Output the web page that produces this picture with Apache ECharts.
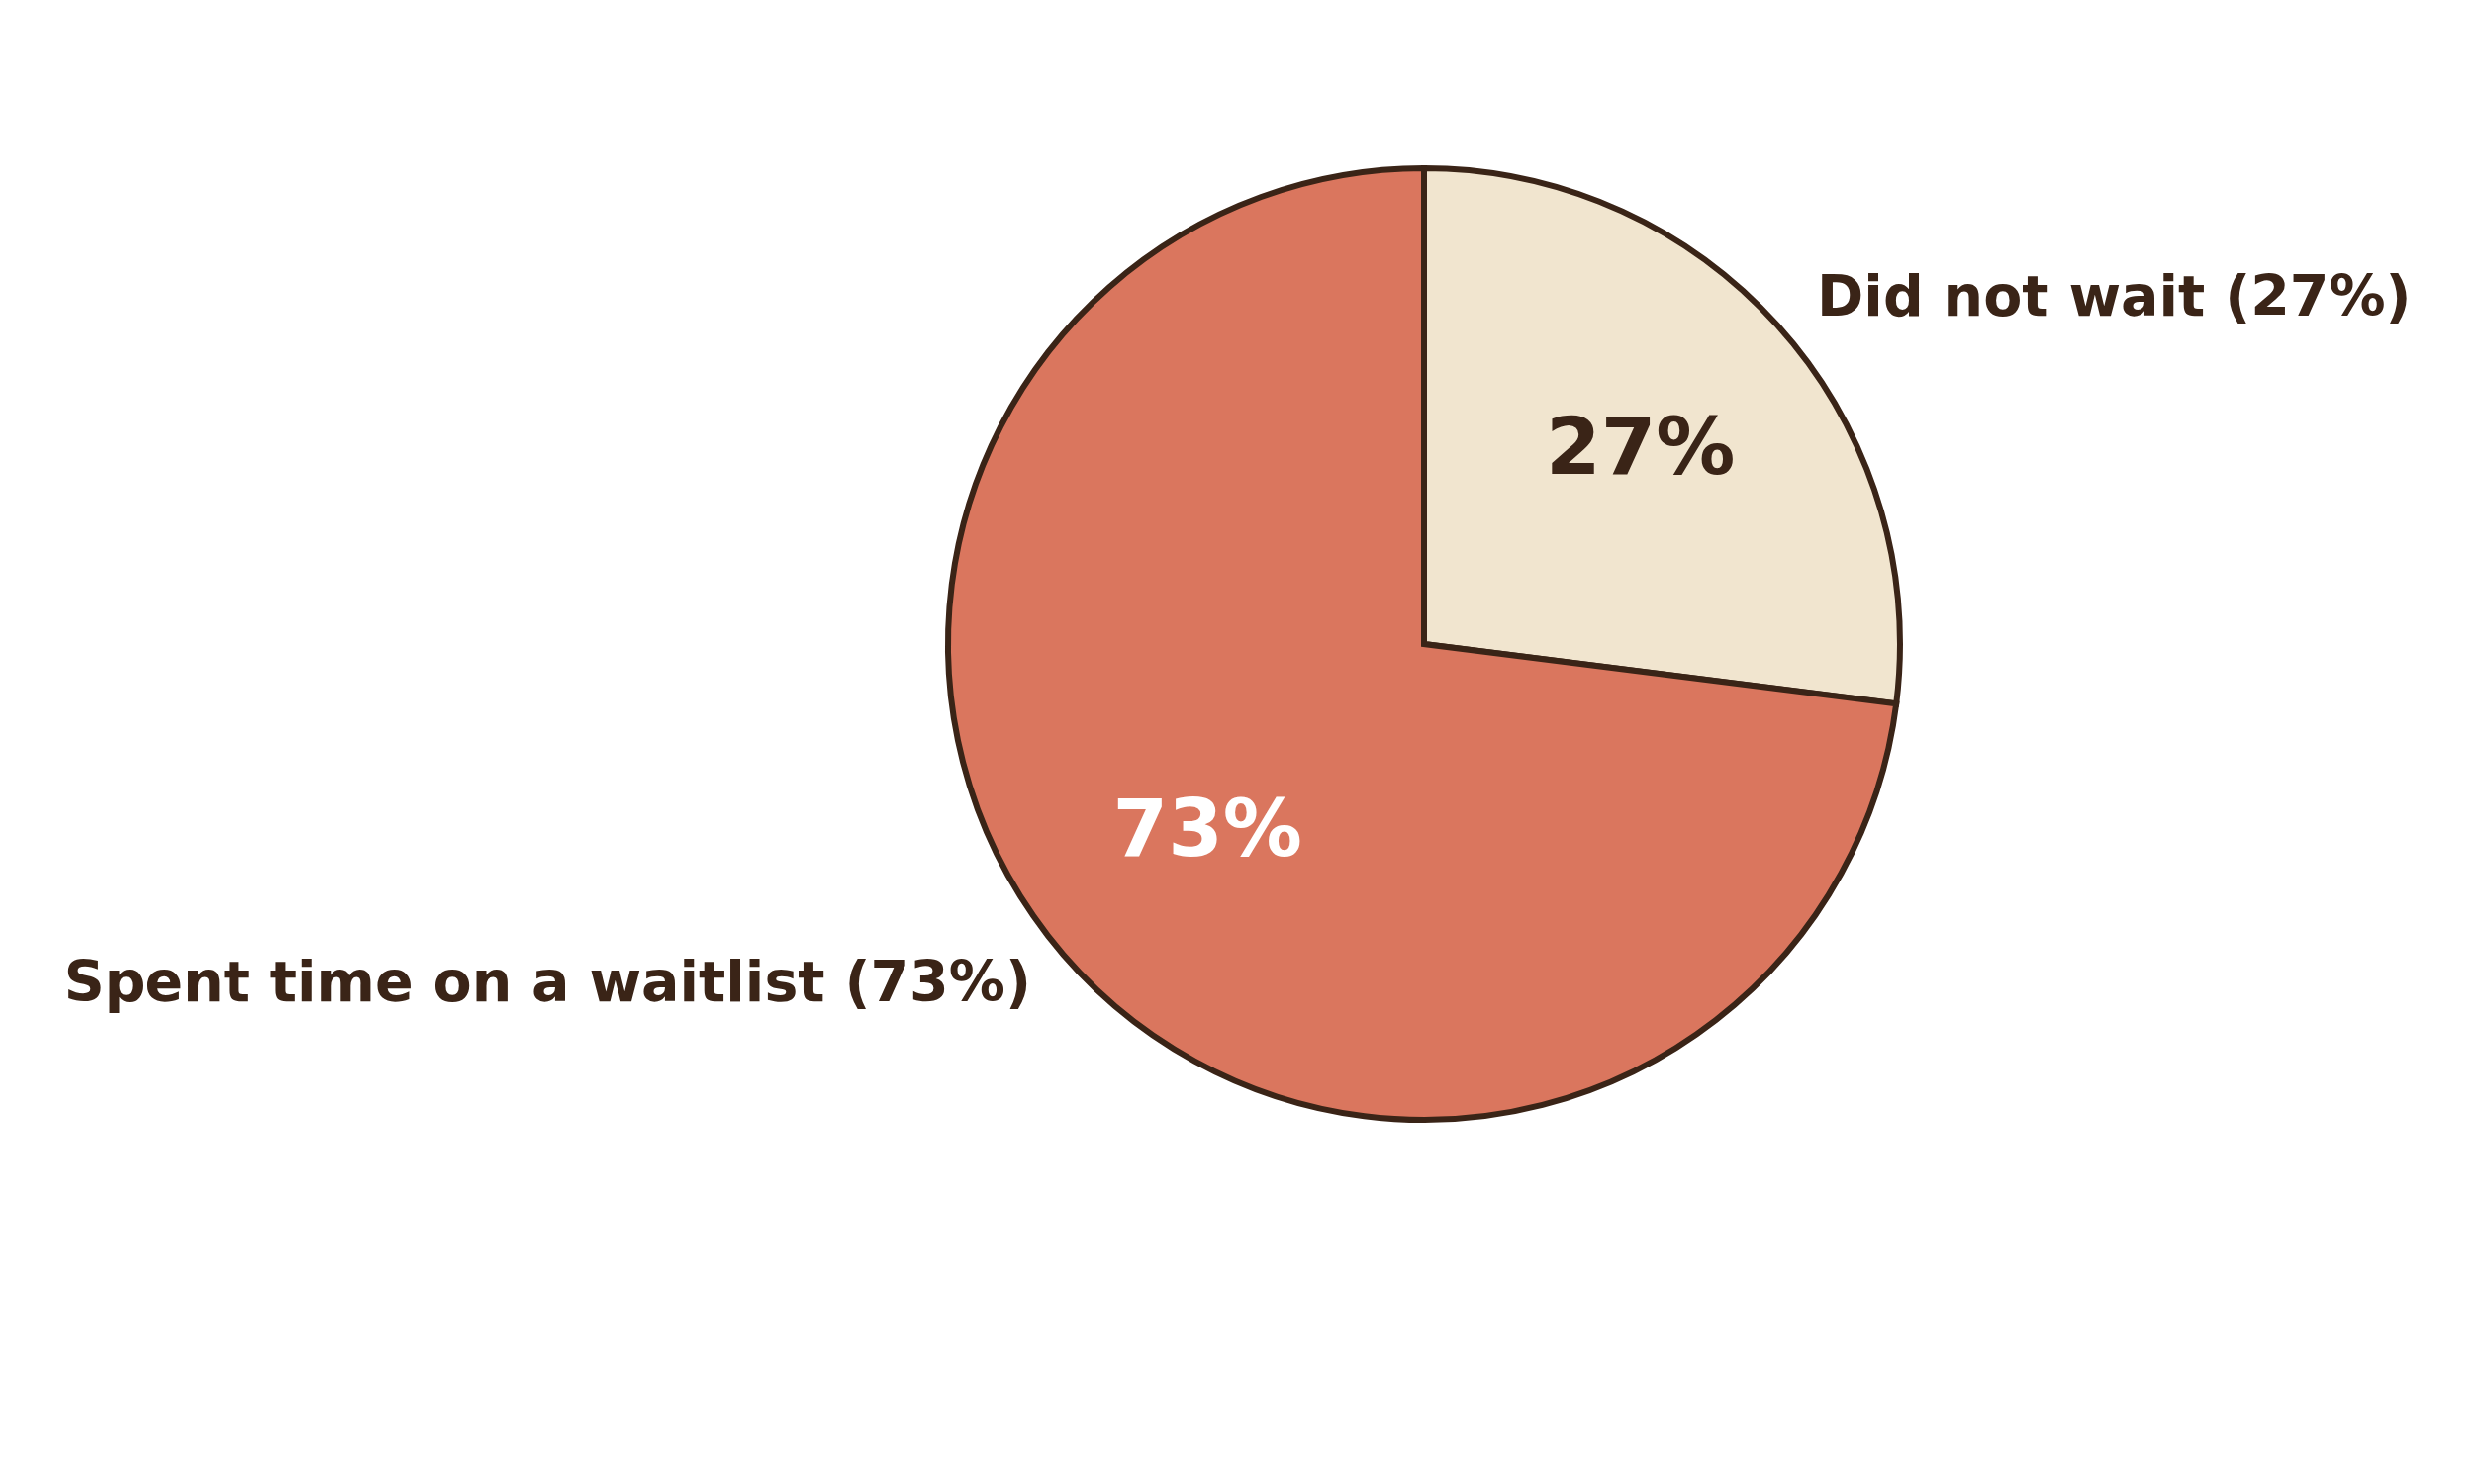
<!DOCTYPE html>
<html>
<head>
<meta charset="utf-8">
<script src="https://cdn.jsdelivr.net/npm/echarts@6/dist/echarts.min.js"></script>
<style>
  html, body { margin: 0; padding: 0; background: #ffffff; }
  #chart { width: 2500px; height: 1500px; }
</style>
</head>
<body>
<div id="chart"></div>
<script>
const categories = ["Did not wait", "Spent time on a waitlist"];
const shares = [27, 73];
const sliceColors = ["#f1e5cf", "#da765e"];
const innerLabelColors = ["#3a2417", "#ffffff"];

const ink = "#3a2417";
const cx = 1439, cy = 651, r = 481;

const chart = echarts.init(document.getElementById("chart"));

const option = {
  backgroundColor: "#ffffff",
  animation: false,
  series: [
    {
      // the pie itself, with the outer category labels
      type: "pie",
      center: [cx, cy],
      radius: [0, r],
      startAngle: 90,
      clockwise: true,
      avoidLabelOverlap: false,
      itemStyle: { borderColor: ink, borderWidth: 6, borderJoin: "miter" },
      label: {
        show: true,
        position: "outside",
        formatter: "{b} ({c}%)",
        color: ink,
        fontFamily: "DejaVu Sans",
        fontWeight: "bold",
        fontSize: 57,
        distanceToLabelLine: 4
      },
      labelLine: { show: false, length: 43, length2: 0 },
      emphasis: { disabled: true },
      data: categories.map((name, i) => ({
        name: name,
        value: shares[i],
        itemStyle: { color: sliceColors[i] }
      }))
    },
    {
      // transparent ring so the percent labels sit at 0.6 r
      type: "pie",
      center: [cx, cy],
      radius: [r * 0.2, r],
      startAngle: 90,
      clockwise: true,
      silent: true,
      z: 5,
      itemStyle: { color: "rgba(0,0,0,0)", borderWidth: 0 },
      label: {
        show: true,
        position: "inside",
        formatter: "{c}%",
        fontFamily: "DejaVu Sans",
        fontWeight: "bold",
        fontSize: 80
      },
      labelLine: { show: false },
      emphasis: { disabled: true },
      data: categories.map((name, i) => ({
        name: name,
        value: shares[i],
        label: { color: innerLabelColors[i] }
      }))
    }
  ]
};

chart.setOption(option);
window.addEventListener("resize", () => chart.resize());
</script>
</body>
</html>
